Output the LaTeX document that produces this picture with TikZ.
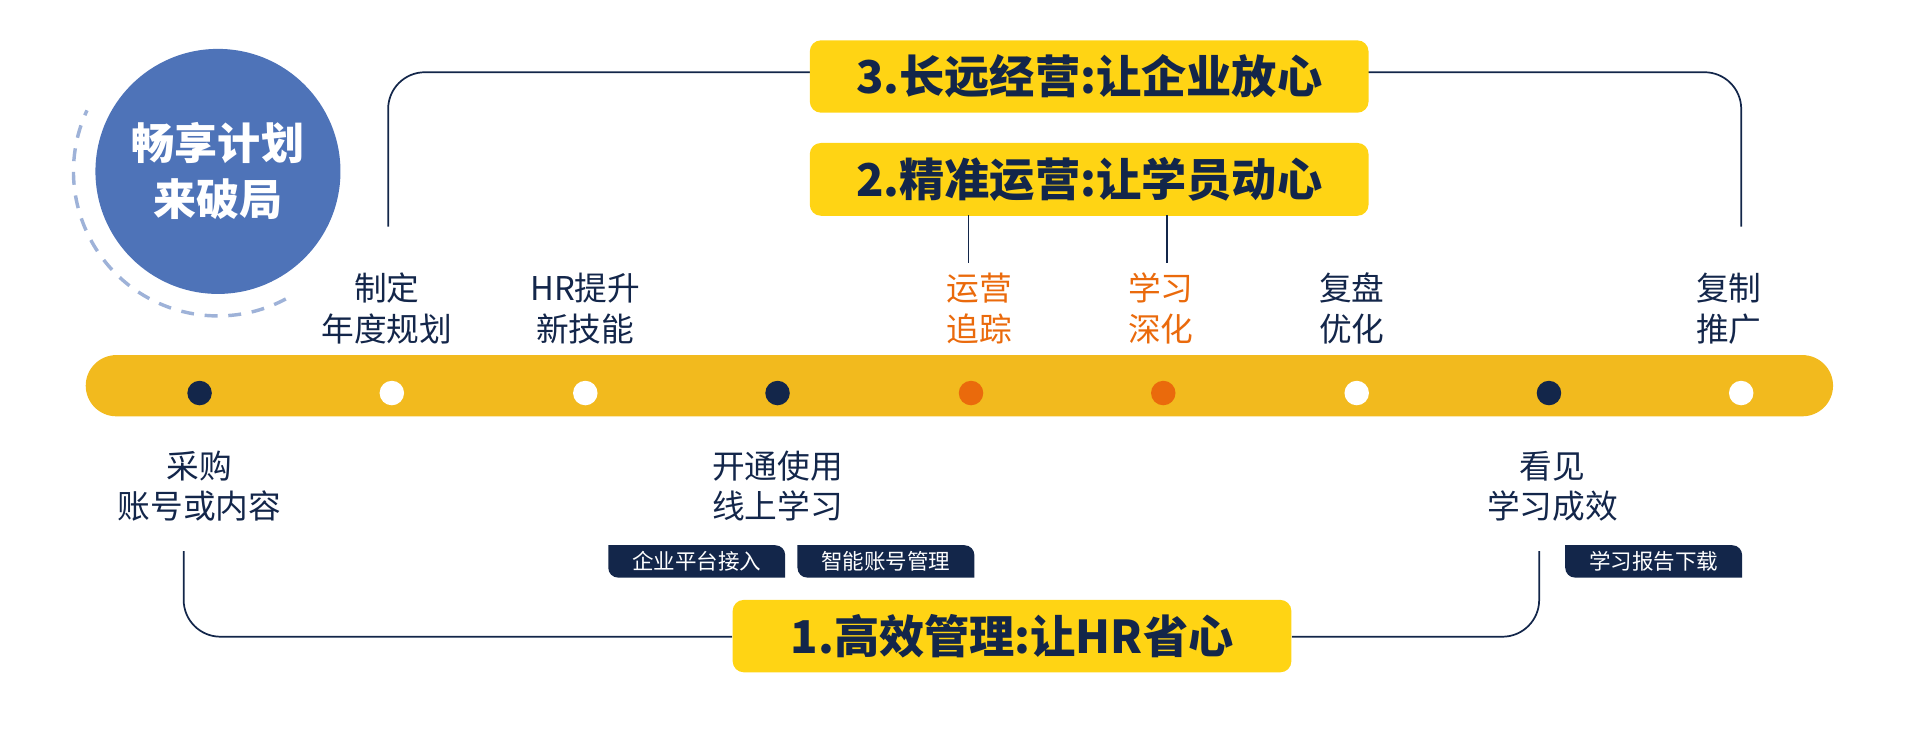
\documentclass[tikz,border=0pt]{standalone}
\usepackage{fontspec}
\setmainfont{Noto Sans CJK SC}
\usetikzlibrary{positioning}
\definecolor{navy}{HTML}{13264A}
\definecolor{barY}{HTML}{F2BA1E}
\definecolor{banY}{HTML}{FFD414}
\definecolor{orng}{HTML}{EA6A0C}
\definecolor{blu}{HTML}{4E73B8}
\tikzset{
  lbl/.style={text=navy, align=center, font=\fontsize{7.6}{9.4}\selectfont},
  hot/.style={lbl, text=orng},
  banner/.style={fill=banY, rounded corners=0.09cm, minimum width=4.56cm, minimum height=0.59cm,
    text=navy, font=\bfseries\fontsize{10.5}{12}\selectfont},
  dotD/.style={circle, fill=navy, inner sep=0pt, minimum size=0.2cm},
  dotW/.style={circle, fill=white, inner sep=0pt, minimum size=0.2cm},
  dotO/.style={circle, fill=orng, inner sep=0pt, minimum size=0.2cm},
  tagbox/.style={text=white, font=\fontsize{5}{6}\selectfont, minimum width=1.43cm, minimum height=0.25cm, inner sep=0pt},
  link/.style={navy, line width=0.4pt, rounded corners=0.3cm}
}
\newcommand{\tagshape}[1]{\fill[navy] ([xshift=0.1cm]#1.south west) [rounded corners=0.08cm] -- (#1.south west) [sharp corners] -- (#1.north west) -- ([xshift=-0.1cm]#1.north east) [rounded corners=0.08cm] -- (#1.north east) [sharp corners] -- (#1.south east) -- cycle;}
\begin{document}
\begin{tikzpicture}[x=0.01cm, y=-0.01cm]
\useasboundingbox (0,0) rectangle (1568,595);
% brackets
\draw[link] (317,185) -- (317,59) -- (662,59);
\draw[link] (1117,59) -- (1422,59) -- (1422,185);
\draw[link] (150,450) -- (150,520) -- (598,520);
\draw[link] (1055,520) -- (1257,520) -- (1257,450);
% banners
\node[banner] (b3) at (889.5,62.5) {3.长远经营:让企业放心};
\node[banner] (b2) at (889.5,146.5) {2.精准运营:让学员动心};
\node[banner] (b1) at (826.5,519.5) {1.高效管理:让HR省心};
\draw[navy, line width=0.4pt] (791,176) -- (791,215);
\draw[navy, line width=0.4pt] (953,176) -- (953,215);
% title circle
\draw[blu!55, dashed, line width=0.8pt, dash pattern=on 3pt off 2.5pt] (178,140) ++(62:118) arc (62:205:118);
\node[circle, fill=blu, minimum size=2cm, text=white, align=center,
  font=\bfseries\fontsize{10}{13}\selectfont] (ttl) at (178,140) {畅享计划\\来破局};
% timeline bar
\fill[barY, rounded corners=0.25cm] (70,290) rectangle (1497,340);
\foreach \x/\s [count=\i] in {163/dotD,320/dotW,478/dotW,635/dotD,793/dotO,950/dotO,1108/dotW,1265/dotD,1422/dotW}
  \node[\s] (d\i) at (\x,321) {};
% labels above
\node[lbl] (u2) at (316,252) {制定\\年度规划};
\node[lbl] (u3) at (478,252) {HR提升\\新技能};
\node[hot] (u5) at (800,252) {运营\\追踪};
\node[hot] (u6) at (948,252) {学习\\深化};
\node[lbl] (u7) at (1104,252) {复盘\\优化};
\node[lbl] (u9) at (1412,252) {复制\\推广};
% labels below
\node[lbl] (l1) at (163,397) {采购\\账号或内容};
\node[lbl] (l4) at (635,397) {开通使用\\线上学习};
\node[lbl] (l8) at (1268,397) {看见\\学习成效};
% tags
\node[tagbox] (t1) at (569,458.5) {企业平台接入};
\node[tagbox] (t2) at (723.5,458.5) {智能账号管理};
\node[tagbox] (t3) at (1350.5,458.5) {学习报告下载};
\begin{scope}[on background layer/.try]
\end{scope}
\tagshape{t1}\tagshape{t2}\tagshape{t3}
\node[tagbox] at (t1) {企业平台接入};
\node[tagbox] at (t2) {智能账号管理};
\node[tagbox] at (t3) {学习报告下载};
\end{tikzpicture}
\end{document}
